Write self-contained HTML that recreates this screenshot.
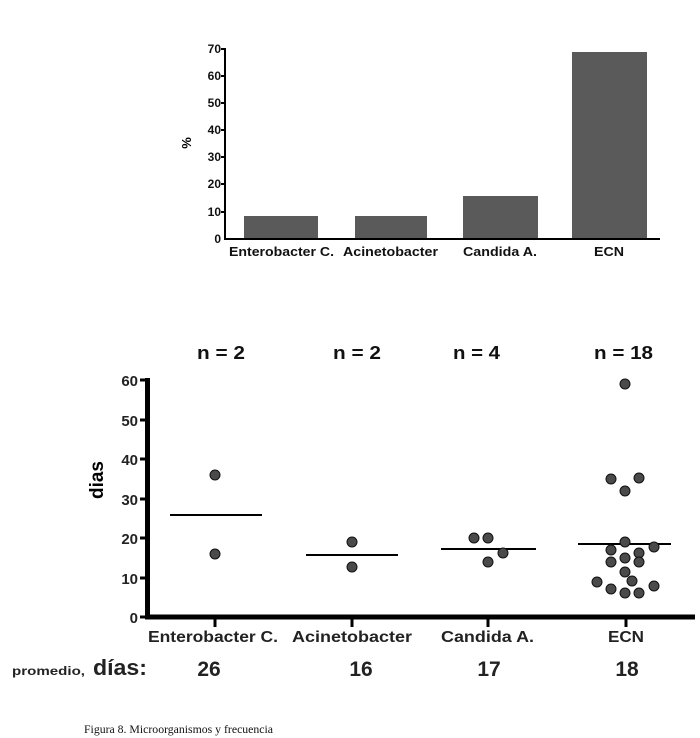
<!DOCTYPE html>
<html><head><meta charset="utf-8"><style>
body{margin:0;background:#fff;}
svg{display:block;font-family:"Liberation Sans",Arial,sans-serif;}
</style></head><body>
<svg width="700" height="738" viewBox="0 0 700 738" xmlns="http://www.w3.org/2000/svg">
<g fill="#5a5a5a">
<rect x="244" y="216" width="74" height="23"/>
<rect x="355" y="216" width="72" height="23"/>
<rect x="463" y="196" width="75" height="43"/>
<rect x="572" y="52" width="75" height="187"/>
</g>
<g stroke="#000" stroke-width="2">
<line x1="225" y1="48" x2="225" y2="240"/>
<line x1="224" y1="239" x2="660" y2="239"/>
<line x1="221" y1="49" x2="225" y2="49"/>
<line x1="221" y1="76" x2="225" y2="76"/>
<line x1="221" y1="103" x2="225" y2="103"/>
<line x1="221" y1="130" x2="225" y2="130"/>
<line x1="221" y1="157" x2="225" y2="157"/>
<line x1="221" y1="184" x2="225" y2="184"/>
<line x1="221" y1="212" x2="225" y2="212"/>
</g>
<g font-size="12" font-weight="bold" text-anchor="end" fill="#111">
<text x="221" y="53">70</text><text x="221" y="80">60</text><text x="221" y="107">50</text>
<text x="221" y="134">40</text><text x="221" y="161">30</text><text x="221" y="188">20</text>
<text x="221" y="216">10</text><text x="221" y="243">0</text>
</g>
<text x="191" y="143" font-size="13" font-weight="bold" transform="rotate(-90 191 143)" text-anchor="middle">%</text>
<g font-size="13" font-weight="bold" fill="#111">
<text x="229" y="256" textLength="105" lengthAdjust="spacingAndGlyphs">Enterobacter C.</text>
<text x="343" y="256" textLength="95" lengthAdjust="spacingAndGlyphs">Acinetobacter</text>
<text x="463" y="256" textLength="74" lengthAdjust="spacingAndGlyphs">Candida A.</text>
<text x="594" y="256" textLength="30" lengthAdjust="spacingAndGlyphs">ECN</text>
</g>

<g font-size="18" font-weight="bold" fill="#111">
<text x="197" y="359" textLength="48" lengthAdjust="spacingAndGlyphs">n = 2</text>
<text x="333" y="359" textLength="48" lengthAdjust="spacingAndGlyphs">n = 2</text>
<text x="453" y="359" textLength="47" lengthAdjust="spacingAndGlyphs">n = 4</text>
<text x="594" y="359" textLength="59" lengthAdjust="spacingAndGlyphs">n = 18</text>
</g>
<g stroke="#000">
<line x1="147.5" y1="378" x2="147.5" y2="619" stroke-width="5"/>
<line x1="145" y1="617" x2="695" y2="617" stroke-width="5"/>
<g stroke-width="3">
<line x1="140" y1="380" x2="147" y2="380"/>
<line x1="140" y1="420" x2="147" y2="420"/>
<line x1="140" y1="459" x2="147" y2="459"/>
<line x1="140" y1="499" x2="147" y2="499"/>
<line x1="140" y1="538" x2="147" y2="538"/>
<line x1="140" y1="578" x2="147" y2="578"/>
<line x1="140" y1="617" x2="147" y2="617"/>
<line x1="215" y1="617" x2="215" y2="627"/>
<line x1="352" y1="617" x2="352" y2="627"/>
<line x1="488" y1="617" x2="488" y2="627"/>
<line x1="626" y1="617" x2="626" y2="627"/>
</g>
<g stroke-width="2">
<line x1="170" y1="515" x2="262" y2="515"/>
<line x1="306" y1="555" x2="398" y2="555"/>
<line x1="441" y1="549" x2="536" y2="549"/>
<line x1="578" y1="544" x2="671" y2="544"/>
</g>
</g>
<g font-size="15" font-weight="bold" text-anchor="end" fill="#222">
<text x="138" y="386">60</text><text x="138" y="426">50</text><text x="138" y="465">40</text>
<text x="138" y="505">30</text><text x="138" y="544">20</text><text x="138" y="584">10</text>
<text x="138" y="623">0</text>
</g>
<text x="103" y="480" font-size="19" font-weight="bold" transform="rotate(-90 103 480)" text-anchor="middle">dias</text>
<g font-size="16" font-weight="bold" fill="#222">
<text x="148" y="642" textLength="130" lengthAdjust="spacingAndGlyphs">Enterobacter C.</text>
<text x="292" y="642" textLength="120" lengthAdjust="spacingAndGlyphs">Acinetobacter</text>
<text x="441" y="642" textLength="93" lengthAdjust="spacingAndGlyphs">Candida A.</text>
<text x="608" y="642" textLength="36" lengthAdjust="spacingAndGlyphs">ECN</text>
</g>
<text x="12" y="675" font-size="12" font-weight="bold" fill="#222" textLength="73" lengthAdjust="spacingAndGlyphs">promedio,</text>
<text x="93" y="675" font-size="22" font-weight="bold" fill="#222" textLength="54" lengthAdjust="spacingAndGlyphs">días:</text>
<g font-size="21" font-weight="bold" text-anchor="middle" fill="#222">
<text x="209" y="676">26</text><text x="361" y="676">16</text>
<text x="489" y="676">17</text><text x="627" y="676">18</text>
</g>
<g fill="#4a4a4a" stroke="#111" stroke-width="1">
<circle cx="215" cy="475" r="5"/><circle cx="215" cy="554" r="5"/>
<circle cx="352" cy="542" r="5"/><circle cx="352" cy="567" r="5"/>
<circle cx="474" cy="538" r="5"/><circle cx="488" cy="538" r="5"/><circle cx="503" cy="553" r="5"/><circle cx="488" cy="562" r="5"/>
<circle cx="625" cy="384" r="5"/>
<circle cx="611" cy="479" r="5"/><circle cx="639" cy="478" r="5"/><circle cx="625" cy="491" r="5"/>
<circle cx="625" cy="542" r="5"/><circle cx="654" cy="547" r="5"/><circle cx="611" cy="550" r="5"/>
<circle cx="639" cy="553" r="5"/><circle cx="625" cy="558" r="5"/><circle cx="611" cy="562" r="5"/>
<circle cx="639" cy="562" r="5"/><circle cx="625" cy="572" r="5"/><circle cx="632" cy="581" r="5"/>
<circle cx="597" cy="582" r="5"/><circle cx="654" cy="586" r="5"/><circle cx="611" cy="589" r="5"/>
<circle cx="625" cy="593" r="5"/><circle cx="639" cy="593" r="5"/>
</g>
<text x="84" y="733" font-size="12" font-family="'Liberation Serif',serif" fill="#111" textLength="189" lengthAdjust="spacingAndGlyphs">Figura 8. Microorganismos y frecuencia</text>
</svg>
</body></html>
